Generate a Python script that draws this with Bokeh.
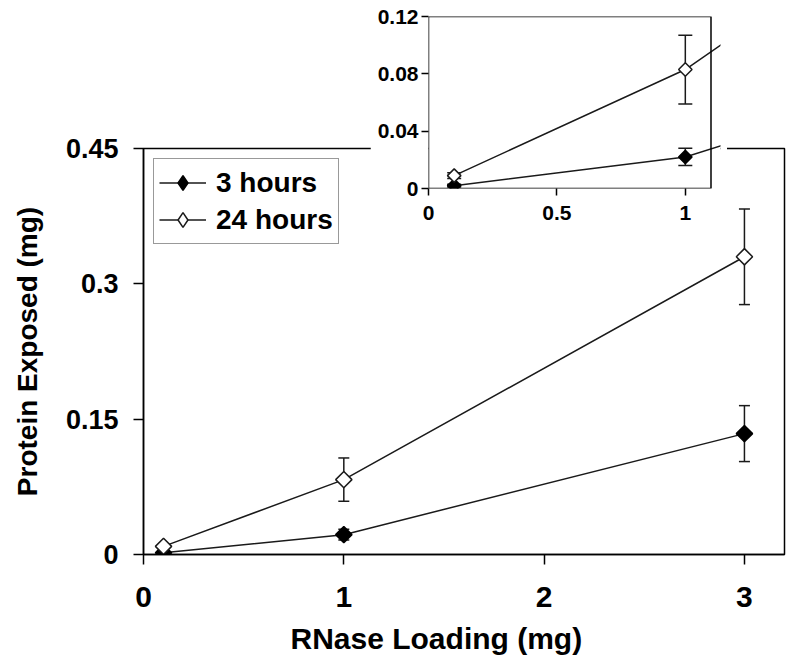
import numpy as np
from bokeh.plotting import figure
from bokeh.models import (ColumnDataSource, Whisker, TeeHead, FixedTicker,
                          BoxAnnotation, Legend, LegendItem, Title)
from bokeh.layouts import column
from bokeh.embed import file_html
from bokeh.resources import INLINE

# ---- data ----
loading = [0.1, 1.0, 3.0]
exposed_3h = [0.002, 0.022, 0.134]
err_3h = [0.001, 0.006, 0.031]
exposed_24h = [0.009, 0.083, 0.330]
err_24h = [0.002, 0.024, 0.053]
series_names = ["3 hours", "24 hours"]

main_xticks = [0, 1, 2, 3]
main_xlabels = ["0", "1", "2", "3"]
main_yticks = [0, 0.15, 0.3, 0.45]
main_ylabels = ["0", "0.15", "0.3", "0.45"]
inset_xticks = [0, 0.5, 1]
inset_xlabels = ["0", "0.5", "1"]
inset_yticks = [0, 0.04, 0.08, 0.12]
inset_ylabels = ["0", "0.04", "0.08", "0.12"]

x_title = "RNase Loading (mg)"
y_title = "Protein Exposed (mg)"

FONT = "Liberation Sans"
INK = "#1a1a1a"

src = ColumnDataSource(dict(
    x=loading,
    y3=exposed_3h,
    lo3=[v - e for v, e in zip(exposed_3h, err_3h)],
    up3=[v + e for v, e in zip(exposed_3h, err_3h)],
    y24=exposed_24h,
    lo24=[v - e for v, e in zip(exposed_24h, err_24h)],
    up24=[v + e for v, e in zip(exposed_24h, err_24h)],
))


def style_axes(fig, xticks, xlabels, yticks, ylabels, xfs, yfs, tick_len,
               xstand, ystand):
    fig.xgrid.visible = False
    fig.ygrid.visible = False
    fig.xaxis.ticker = FixedTicker(ticks=xticks)
    fig.yaxis.ticker = FixedTicker(ticks=yticks)
    fig.xaxis.major_label_overrides = {t: l for t, l in zip(xticks, xlabels)}
    fig.yaxis.major_label_overrides = {t: l for t, l in zip(yticks, ylabels)}
    for ax, fs, st in ((fig.xaxis, xfs, xstand), (fig.yaxis, yfs, ystand)):
        ax.axis_line_color = "black"
        ax.axis_line_width = 1.5
        ax.major_tick_line_color = "black"
        ax.major_tick_line_width = 1.5
        ax.major_tick_out = tick_len
        ax.major_tick_in = 0
        ax.minor_tick_line_color = None
        ax.major_label_text_font = FONT
        ax.major_label_text_font_style = "bold"
        ax.major_label_text_font_size = fs
        ax.major_label_text_color = "black"
        ax.major_label_standoff = st


def draw_series(fig, msize, cap):
    for lo, up in (("lo3", "up3"), ("lo24", "up24")):
        w = Whisker(source=src, base="x", lower=lo, upper=up,
                    line_color=INK, line_width=1.5, level="underlay",
                    lower_head=TeeHead(size=cap, line_color=INK, line_width=1.5),
                    upper_head=TeeHead(size=cap, line_color=INK, line_width=1.5))
        fig.add_layout(w)
    l3 = fig.line("x", "y3", source=src, line_color=INK, line_width=1.5)
    fig.scatter("x", "y3", source=src, marker="square", angle=np.pi / 4,
                size=msize, fill_color="black", line_color="black",
                line_width=1.5)
    l24 = fig.line("x", "y24", source=src, line_color=INK, line_width=1.5)
    fig.scatter("x", "y24", source=src, marker="square", angle=np.pi / 4,
                size=msize, fill_color="white", line_color=INK,
                line_width=1.5)
    return l3, l24


# ---- main chart ----
p = figure(width=798, height=668, x_range=(0, 3.2), y_range=(0, 0.45),
           output_backend="svg", toolbar_location=None,
           min_border_left=143, min_border_right=14,
           min_border_top=148, min_border_bottom=114)
p.background_fill_color = "white"
p.border_fill_color = "white"
p.outline_line_color = "black"
p.outline_line_width = 1.5
style_axes(p, main_xticks, main_xlabels, main_yticks, main_ylabels,
           "30px", "27px", 10, 22, 15)
p.yaxis.axis_label = y_title
p.yaxis.axis_label_text_font = FONT
p.yaxis.axis_label_text_font_style = "bold"
p.yaxis.axis_label_text_font_size = "28px"
p.yaxis.axis_label_text_color = "black"
p.yaxis.axis_label_standoff = 20

xt = Title(text=x_title, align="left", offset=147, standoff=20,
           text_font=FONT, text_font_style="bold", text_font_size="30px",
           text_color="black")
p.add_layout(xt, "below")

l3, l24 = draw_series(p, 11.5, 11)
# legend-only diamond keys (legend ignores marker rotation); size 0 in plot
k3 = p.scatter("x", "y3", source=src, marker="diamond", size=0,
               fill_color="black", line_color="black", line_width=1.5)
k24 = p.scatter("x", "y24", source=src, marker="diamond", size=0,
                fill_color="white", line_color=INK, line_width=1.5)
legend = Legend(items=[LegendItem(label=series_names[0], renderers=[l3, k3]),
                       LegendItem(label=series_names[1], renderers=[l24, k24])],
                location="top_left", margin=10, padding=5, spacing=0,
                glyph_width=47, glyph_height=37, label_height=37,
                label_standoff=10, label_text_font=FONT,
                label_text_font_style="bold", label_text_font_size="28px",
                label_text_color="black", border_line_color="#333333",
                border_line_width=1.2, background_fill_color="white",
                background_fill_alpha=1.0)
p.add_layout(legend)

# ---- inset ----
q = figure(width=357, height=228, x_range=(0, 1.137), y_range=(0, 0.12),
           output_backend="svg", toolbar_location=None,
           min_border_left=58, min_border_right=7,
           min_border_top=16, min_border_bottom=40,
           margin=(-668, 0, 0, 370))
q.background_fill_color = "white"
q.border_fill_color = "white"
q.outline_line_alpha = 0
style_axes(q, inset_xticks, inset_xlabels, inset_yticks, inset_ylabels,
           "21px", "21px", 7, 10, 3)
q.xaxis.axis_line_alpha = 0
q.yaxis.axis_line_alpha = 0
q.add_layout(BoxAnnotation(left=0, right=1.1, bottom=0, top=0.12,
                           fill_alpha=0, line_color="black", line_alpha=1.0,
                           line_width=1.5))
draw_series(q, 9.5, 14)

p.frame_align = False
q.frame_align = False

layout = column(p, q)
with open("out.html", "w") as f:
    f.write(file_html(layout, INLINE))
